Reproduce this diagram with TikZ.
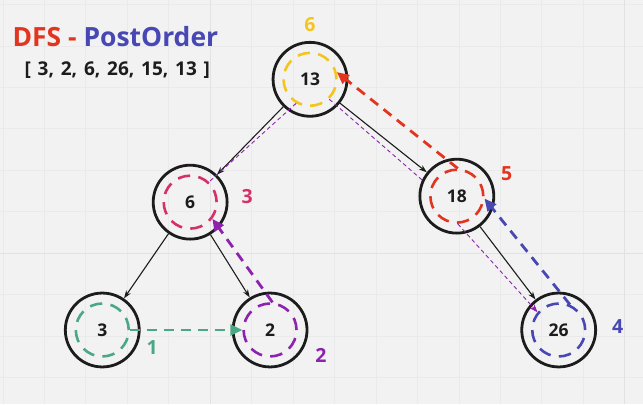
\documentclass[tikz,border=0pt]{standalone}
\usepackage{fontspec}
\setmainfont{Open Sans}
\usetikzlibrary{positioning, arrows.meta}

\definecolor{bgGray}{HTML}{F2F2F2}
\definecolor{gridGray}{HTML}{EAEAEA}
\definecolor{gridMajor}{HTML}{E2E2E2}
\definecolor{dfsRed}{HTML}{E2351F}
\definecolor{orderBlue}{HTML}{4848B4}
\definecolor{ringYellow}{HTML}{F5C51F}
\definecolor{ringPink}{HTML}{D6306B}
\definecolor{ringPurple}{HTML}{8C22AD}
\definecolor{ringTeal}{HTML}{4AA886}
\definecolor{inkBlack}{HTML}{1C1C1C}

\begin{document}
\begin{tikzpicture}[
    x=1pt, y=-1pt,
    on grid,
    treenode/.style={circle, draw=inkBlack, line width=2.8pt, minimum size=74pt, inner sep=0pt, text=inkBlack, font=\fontsize{17.5}{20}\selectfont\bfseries},
    ring/.style={circle, line width=2.6pt, minimum size=53pt, inner sep=0pt, dash pattern=on 12.5pt off 8.3pt},
    order/.style={inner sep=0pt, font=\fontsize{19.5}{22}\selectfont\bfseries},
    edge/.style={-{Stealth[length=8pt, width=5.5pt]}, line width=1.1pt, draw=inkBlack},
    trail/.style={-{Triangle[length=12pt, width=11pt]}, line width=2.8pt, dash pattern=on 10pt off 7pt},
    visit/.style={ringPurple, line width=0.9pt, dash pattern=on 4pt off 3pt}
]

% Background and grid
\fill[bgGray] (0,0) rectangle (643,404);
\foreach \gx in {0,...,15}
    \draw[gridGray, line width=0.6pt] ({2.5+41.5*\gx},0) -- ({2.5+41.5*\gx},404);
\foreach \gy in {0,...,9}
    \draw[gridGray, line width=0.6pt] (0,{4+41.5*\gy}) -- (643,{4+41.5*\gy});
\draw[gridMajor, line width=0.8pt] (210,0) -- (210,404);
\draw[gridMajor, line width=0.8pt] (625,0) -- (625,404);
\draw[gridMajor, line width=0.8pt] (0,253) -- (643,253);
\useasboundingbox (0,0) rectangle (643,404);

% Title
\node (Title) [anchor=west, inner sep=0pt, font=\fontsize{26.5}{30}\selectfont\bfseries] at (12,36)
    {\textcolor{dfsRed}{DFS -} \textcolor{orderBlue}{PostOrder}};
\node (Result) [anchor=west, inner sep=0pt, text=inkBlack, font=\fontsize{19}{22}\selectfont\bfseries] at (24,70)
    {\spaceskip=0.36em [ 3, 2, 6, 26, 15, 13 ]};

% Tree nodes
\node (n13) [treenode] at (310,79) {13};
\node (n6) [treenode, below left=123pt and 120pt of n13] {6};
\node (n18) [treenode, below right=117pt and 147pt of n13] {18};
\node (n3) [treenode, below left=128pt and 88pt of n6] {3};
\node (n2) [treenode, below right=128pt and 80pt of n6] {2};
\node (n26) [treenode, below right=134pt and 102pt of n18] {26};

% Dashed rings
\node (r13) [ring, draw=ringYellow] at (n13) {};
\node (r6) [ring, draw=ringPink] at (n6) {};
\node (r18) [ring, draw=dfsRed] at (n18) {};
\node (r3) [ring, draw=ringTeal] at (n3) {};
\node (r2) [ring, draw=ringPurple] at (n2) {};
\node (r26) [ring, draw=orderBlue] at (n26) {};

% Visit order
\node (o13) [order, text=ringYellow, above=55pt of n13] {6};
\node (o6) [order, text=ringPink, above right=6pt and 57pt of n6] {3};
\node (o18) [order, text=dfsRed, above right=23pt and 50pt of n18] {5};
\node (o26) [order, text=orderBlue, above right=3pt and 59pt of n26] {4};
\node (o3) [order, text=ringTeal, below right=18pt and 50pt of n3] {1};
\node (o2) [order, text=ringPurple, below right=25pt and 51pt of n2] {2};

% Tree edges
\draw [edge] (n13) -- (n6);
\draw [edge] (n13) -- (n18);
\draw [edge] (n6) -- (n3);
\draw [edge] (n6) -- (n2);
\draw [edge] (n18) -- (n26);

% Descent
\draw [visit] (r13.240) -- (r6.47);
\draw [visit] (r13.314) -- (n18.155);
\draw [visit, -{Stealth[length=8pt, width=6pt]}] (r18.272) -- (r26.140);

% Post order returns
\draw [trail, ringTeal] (r3.east) -- (r2.west);
\draw [trail, ringPurple] (r2.85) -- (r6.-37);
\draw [trail, orderBlue] (r26.66) -- (r18.-5);
\draw [trail, dfsRed] (r18.88) -- (r13.15);

\end{tikzpicture}
\end{document}
